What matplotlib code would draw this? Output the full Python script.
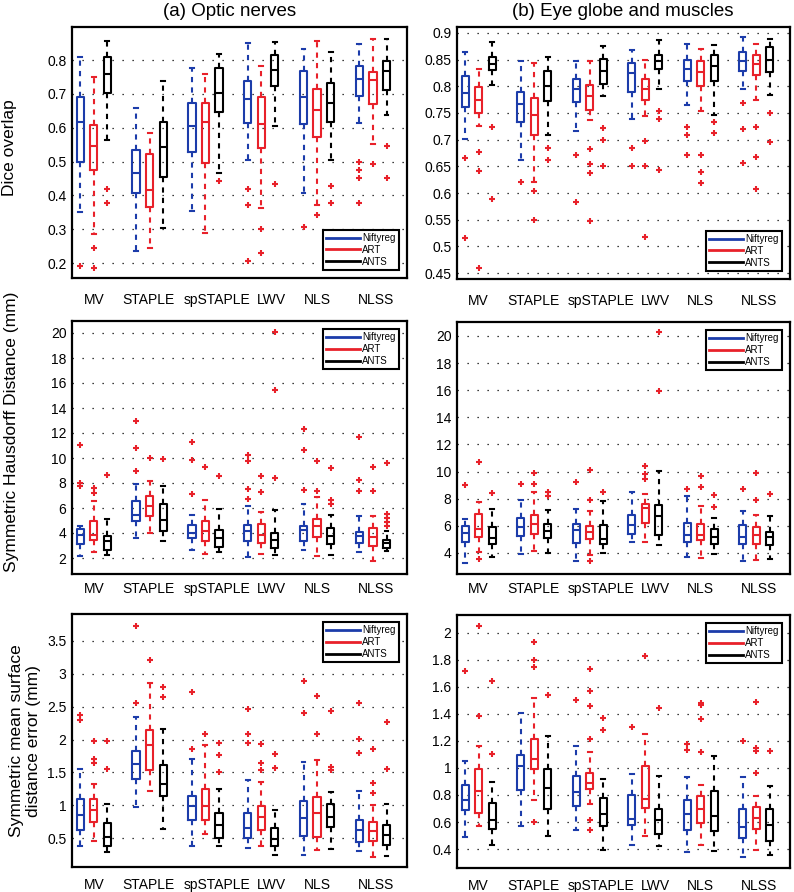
import matplotlib
matplotlib.use('Agg')
import matplotlib.pyplot as plt
from matplotlib.lines import Line2D

plt.rcParams['font.family'] = ['Liberation Sans', 'DejaVu Sans']

METHODS = ['MV', 'STAPLE', 'spSTAPLE', 'LWV', 'NLS', 'NLSS']
REGS = ['Niftyreg', 'ART', 'ANTS']
COLORS = ['#1c3caa', '#e8212a', '#000000']

# each row: [lower whisker, q1, median, q3, upper whisker]
# order: MV(N,A,T), STAPLE(N,A,T), spSTAPLE, LWV, NLS, NLSS
DICE_OPTIC = [
    [0.35, 0.498, 0.617, 0.69, 0.81], [0.285, 0.474, 0.546, 0.607, 0.75], [0.564, 0.704, 0.758, 0.81, 0.856],
    [0.235, 0.406, 0.466, 0.533, 0.66], [0.244, 0.366, 0.415, 0.523, 0.586], [0.305, 0.456, 0.544, 0.616, 0.738],
    [0.353, 0.529, 0.606, 0.674, 0.777], [0.289, 0.495, 0.618, 0.672, 0.759], [0.466, 0.646, 0.704, 0.777, 0.818],
    [0.505, 0.613, 0.684, 0.739, 0.852], [0.362, 0.539, 0.61, 0.692, 0.782], [0.605, 0.724, 0.772, 0.814, 0.854],
    [0.407, 0.61, 0.692, 0.768, 0.832], [0.372, 0.574, 0.654, 0.716, 0.857], [0.505, 0.617, 0.672, 0.733, 0.823],
    [0.615, 0.695, 0.745, 0.783, 0.847], [0.552, 0.67, 0.741, 0.766, 0.864], [0.638, 0.711, 0.769, 0.797, 0.864],
]
DICE_OPTIC_OUT = [
    [0.19], [0.244, 0.185], [0.42, 0.379],
    [], [], [],
    [], [], [0.443],
    [0.418, 0.372, 0.207], [0.3, 0.23], [0.434],
    [0.308], [0.343], [0.428, 0.379],
    [0.498, 0.475, 0.451, 0.379], [0.492], [0.546, 0.451],
]

DICE_EYE = [
    [0.701, 0.761, 0.788, 0.819, 0.864], [0.725, 0.75, 0.774, 0.799, 0.833], [0.803, 0.831, 0.842, 0.854, 0.883],
    [0.661, 0.734, 0.767, 0.789, 0.848], [0.62, 0.708, 0.747, 0.778, 0.844], [0.709, 0.773, 0.8, 0.829, 0.854],
    [0.716, 0.77, 0.794, 0.814, 0.848], [0.736, 0.756, 0.781, 0.803, 0.848], [0.781, 0.805, 0.828, 0.852, 0.876],
    [0.739, 0.789, 0.824, 0.844, 0.867], [0.745, 0.775, 0.794, 0.814, 0.85], [0.795, 0.833, 0.848, 0.859, 0.886],
    [0.765, 0.809, 0.833, 0.85, 0.879], [0.753, 0.8, 0.827, 0.847, 0.869], [0.747, 0.809, 0.838, 0.859, 0.878],
    [0.795, 0.829, 0.847, 0.864, 0.892], [0.774, 0.822, 0.842, 0.858, 0.879], [0.783, 0.826, 0.85, 0.873, 0.888],
]
DICE_EYE_OUT = [
    [0.665, 0.516], [0.677, 0.642, 0.459], [0.724, 0.589],
    [0.621], [0.604, 0.55], [0.684, 0.661],
    [0.671, 0.584], [0.683, 0.654, 0.637, 0.547], [0.722, 0.7, 0.65],
    [0.684, 0.65], [0.697, 0.65, 0.518], [0.754, 0.738, 0.643],
    [0.723, 0.708, 0.672], [0.671, 0.639, 0.619], [0.734, 0.713],
    [0.769, 0.72, 0.656], [0.724, 0.667, 0.607], [0.749, 0.696],
]

HD_OPTIC = [
    [2.19, 3.12, 3.87, 4.3, 4.6], [2.45, 3.47, 3.87, 4.93, 6.53], [2.27, 2.67, 3.33, 3.79, 5.12],
    [3.6, 4.93, 5.47, 6.53, 7.95], [4.0, 5.39, 6.13, 6.93, 8.13], [3.39, 4.13, 5.01, 6.35, 7.73],
    [2.61, 3.6, 4.0, 4.67, 5.47], [2.32, 3.33, 4.13, 4.93, 6.67], [2.48, 2.85, 3.6, 4.27, 5.92],
    [2.08, 3.33, 4.13, 4.67, 6.13], [2.32, 3.2, 3.81, 4.72, 5.65], [2.27, 2.8, 3.47, 4.0, 5.81],
    [2.67, 3.33, 4.27, 4.59, 6.35], [2.13, 3.68, 4.53, 5.12, 6.88], [2.27, 3.12, 3.79, 4.4, 5.44],
    [2.45, 3.2, 3.73, 4.05, 5.39], [1.73, 2.93, 3.68, 4.4, 5.39], [2.53, 2.8, 3.2, 3.47, 4.13],
]
HD_OPTIC_OUT = [
    [11.07, 8.0, 7.73], [7.6, 7.2], [8.67],
    [12.93, 10.8, 8.93], [10.0], [9.92],
    [11.28, 9.81, 7.12], [9.28], [8.53],
    [10.27, 9.73, 7.52, 6.72], [8.53, 7.28], [20.08, 15.41, 8.4],
    [12.32, 10.61, 7.47], [9.79, 7.33], [9.2, 6.67, 6.35],
    [11.68, 8.27, 7.33], [9.28, 7.33], [9.6, 5.5, 5.2, 4.9, 4.6],
]

HD_EYE = [
    [3.26, 4.81, 5.48, 6.0, 6.54], [4.07, 5.18, 5.8, 6.9, 7.77], [3.71, 4.69, 5.11, 5.92, 7.27],
    [3.95, 5.23, 5.92, 6.61, 7.89], [4.15, 5.43, 6.17, 6.83, 8.5], [4.0, 5.14, 5.63, 6.17, 7.2],
    [3.38, 4.74, 5.67, 6.12, 7.27], [3.83, 5.06, 5.55, 5.97, 7.1], [4.0, 4.69, 5.06, 6.04, 7.84],
    [4.81, 5.38, 6.04, 6.83, 8.48], [4.81, 6.22, 7.35, 7.6, 8.38], [4.57, 5.35, 6.73, 7.57, 10.06],
    [3.71, 4.81, 5.3, 6.24, 8.18], [3.63, 4.94, 5.3, 6.12, 7.45], [3.95, 4.69, 5.18, 5.8, 6.58],
    [3.41, 4.69, 5.18, 6.09, 7.1], [3.46, 4.69, 5.3, 5.92, 6.83], [3.58, 4.57, 5.18, 5.55, 6.71],
]
HD_EYE_OUT = [
    [9.0], [10.72, 3.58], [8.43],
    [9.05], [9.86, 9.07], [8.5, 8.18],
    [9.24], [10.1, 7.89, 3.38], [8.5],
    [], [10.42, 9.81, 9.42], [20.27, 15.94],
    [8.7], [9.66, 8.87], [8.26, 7.4],
    [8.75], [9.91, 7.94], [8.38],
]

MSD_OPTIC = [
    [0.377, 0.616, 0.845, 1.089, 1.557], [0.453, 0.743, 0.931, 1.089, 1.328], [0.285, 0.377, 0.515, 0.728, 1.013],
    [0.972, 1.394, 1.623, 1.827, 2.345], [1.211, 1.542, 1.913, 2.142, 2.854], [0.642, 1.135, 1.318, 1.618, 2.157],
    [0.377, 0.768, 0.987, 1.14, 1.71], [0.565, 0.768, 0.987, 1.242, 1.913], [0.377, 0.5, 0.692, 0.88, 1.242],
    [0.351, 0.5, 0.657, 0.886, 1.379], [0.387, 0.626, 0.82, 0.987, 1.353], [0.25, 0.372, 0.489, 0.657, 0.921],
    [0.25, 0.53, 0.809, 1.059, 1.66], [0.321, 0.514, 0.886, 1.125, 1.684], [0.336, 0.667, 0.82, 1.023, 1.201],
    [0.3, 0.438, 0.616, 0.779, 1.216], [0.219, 0.463, 0.606, 0.743, 1.008], [0.234, 0.397, 0.54, 0.702, 1.013],
]
MSD_OPTIC_OUT = [
    [2.38, 2.29], [1.98, 1.70, 1.65], [1.98, 1.557],
    [3.73, 2.56], [3.21], [2.80, 2.64],
    [2.73, 1.85], [2.08], [1.94, 1.76, 1.506],
    [2.46, 2.08, 1.94], [1.93, 1.64, 1.54], [1.786, 1.572],
    [2.89, 2.41], [2.66, 2.08], [2.44, 1.583, 1.532],
    [2.55, 2.01, 1.80], [1.85, 1.343, 1.19], [2.26, 1.557],
]

MSD_EYE = [
    [0.489, 0.686, 0.765, 0.872, 1.049], [0.568, 0.667, 0.827, 0.995, 1.16], [0.427, 0.551, 0.617, 0.741, 0.896],
    [0.573, 0.84, 1.012, 1.094, 1.407], [0.761, 0.993, 1.062, 1.21, 1.514], [0.494, 0.699, 0.852, 0.995, 1.235],
    [0.538, 0.716, 0.822, 0.938, 1.16], [0.736, 0.844, 0.889, 0.963, 1.119], [0.39, 0.568, 0.659, 0.778, 0.921],
    [0.427, 0.575, 0.625, 0.798, 0.958], [0.494, 0.704, 0.773, 1.012, 1.247], [0.42, 0.511, 0.612, 0.696, 0.938],
    [0.378, 0.543, 0.659, 0.76, 0.933], [0.427, 0.593, 0.699, 0.79, 0.872], [0.383, 0.531, 0.642, 0.827, 1.091],
    [0.341, 0.481, 0.563, 0.696, 0.933], [0.39, 0.551, 0.63, 0.709, 0.795], [0.358, 0.457, 0.58, 0.699, 0.869],
]
MSD_EYE_OUT = [
    [1.716], [2.05, 1.383], [1.642, 1.104],
    [], [1.933, 1.8, 1.748, 0.6], [1.538],
    [1.501], [1.728, 1.568, 1.457, 1.21, 0.617, 0.538], [1.37, 1.277],
    [1.304], [1.827], [1.44],
    [1.18, 1.131], [1.481, 1.462, 1.363, 1.116], [],
    [1.198], [1.489, 1.148, 1.123, 0.963], [1.128],
]

W, H = 794, 892
fig = plt.figure(figsize=(W / 100, H / 100), dpi=100)


def px_axes(l, t, r, b):
    return fig.add_axes([l / W, 1 - b / H, (r - l) / W, (b - t) / H])


LABEL_POS = [0, 0.98, 2.2, 3.18, 4.0, 5.05]
OFFSET = 0.243


def draw_panel(ax, boxes, outliers, yticks, ylim, legend_loc, xpad):
    for k in range(3):
        stats = []
        pos = []
        for g in range(6):
            r = boxes[g * 3 + k]
            stats.append(dict(whislo=r[0], q1=r[1], med=r[2], q3=r[3], whishi=r[4],
                              fliers=outliers[g * 3 + k]))
            pos.append(g + (k - 1) * OFFSET)
        c = COLORS[k]
        ax.bxp(stats, positions=pos, widths=0.13, capwidths=0.07, manage_ticks=False,
               boxprops=dict(color=c, lw=1.5),
               medianprops=dict(color=c, lw=1.5),
               whiskerprops=dict(color=c, lw=1.5, linestyle=(0, (2.5, 2.5))),
               capprops=dict(color=c, lw=1.5),
               flierprops=dict(marker='+', markeredgecolor='#e8212a', markersize=5, mew=1.5))
    ax.set_xlim(-0.39, 5.61)
    ax.set_ylim(*ylim)
    ax.set_yticks(yticks)
    ax.set_yticklabels(['%g' % v for v in yticks])
    ax.set_xticks(LABEL_POS)
    ax.set_xticklabels(METHODS)
    ax.tick_params(axis='both', length=0, labelsize=10)
    ax.tick_params(axis='x', pad=xpad)
    ax.tick_params(axis='y', pad=4)
    ax.yaxis.grid(True, linestyle=(0, (1, 7)), color='k', lw=0.9)
    ax.set_axisbelow(True)
    for s in ax.spines.values():
        s.set_linewidth(1.6)
    handles = [Line2D([], [], color=c, lw=2) for c in COLORS]
    leg = ax.legend(handles, REGS, loc=legend_loc, fontsize=7, fancybox=False, edgecolor='k',
                    framealpha=1, handlelength=3.4, handletextpad=0.3, borderpad=0.35,
                    labelspacing=0.2, borderaxespad=0.8)
    leg.get_frame().set_linewidth(1.5)


ax = px_axes(72, 27, 407, 278)
draw_panel(ax, DICE_OPTIC, DICE_OPTIC_OUT, [0.2, 0.3, 0.4, 0.5, 0.6, 0.7, 0.8],
           (0.156, 0.898), 'lower right', 11)
ax = px_axes(457, 27, 790, 279)
draw_panel(ax, DICE_EYE, DICE_EYE_OUT,
           [0.45, 0.5, 0.55, 0.6, 0.65, 0.7, 0.75, 0.8, 0.85, 0.9],
           (0.439, 0.911), 'lower right', 11)
ax = px_axes(72, 321, 407, 574)
draw_panel(ax, HD_OPTIC, HD_OPTIC_OUT, list(range(2, 21, 2)),
           (0.72, 20.96), 'upper right', 6)
ax = px_axes(457, 322, 790, 574)
draw_panel(ax, HD_EYE, HD_EYE_OUT, list(range(4, 21, 2)),
           (2.45, 21.03), 'upper right', 6)
ax = px_axes(72, 614, 407, 867)
draw_panel(ax, MSD_OPTIC, MSD_OPTIC_OUT, [0.5, 1, 1.5, 2, 2.5, 3, 3.5],
           (0.06, 3.91), 'upper right', 8)
ax = px_axes(457, 615, 790, 868)
draw_panel(ax, MSD_EYE, MSD_EYE_OUT, [0.4, 0.6, 0.8, 1, 1.2, 1.4, 1.6, 1.8, 2],
           (0.26, 2.13), 'upper right', 8)

fig.text(230 / W, 1 - 11 / H, '(a) Optic nerves', fontsize=13.5, ha='center', va='center')
fig.text(623 / W, 1 - 11 / H, '(b) Eye globe and muscles', fontsize=13.5, ha='center', va='center')
fig.text(10 / W, 1 - 148 / H, 'Dice overlap', fontsize=12.5, rotation=90, ha='center', va='center')
fig.text(12 / W, 1 - 432 / H, 'Symmetric Hausdorff Distance (mm)', fontsize=12.5, rotation=90,
         ha='center', va='center')
fig.text(25 / W, 1 - 741 / H, 'Symmetric mean surface\ndistance error (mm)', fontsize=12.5,
         rotation=90, ha='center', va='center', linespacing=1.1)

fig.savefig('out.png', dpi=100)
